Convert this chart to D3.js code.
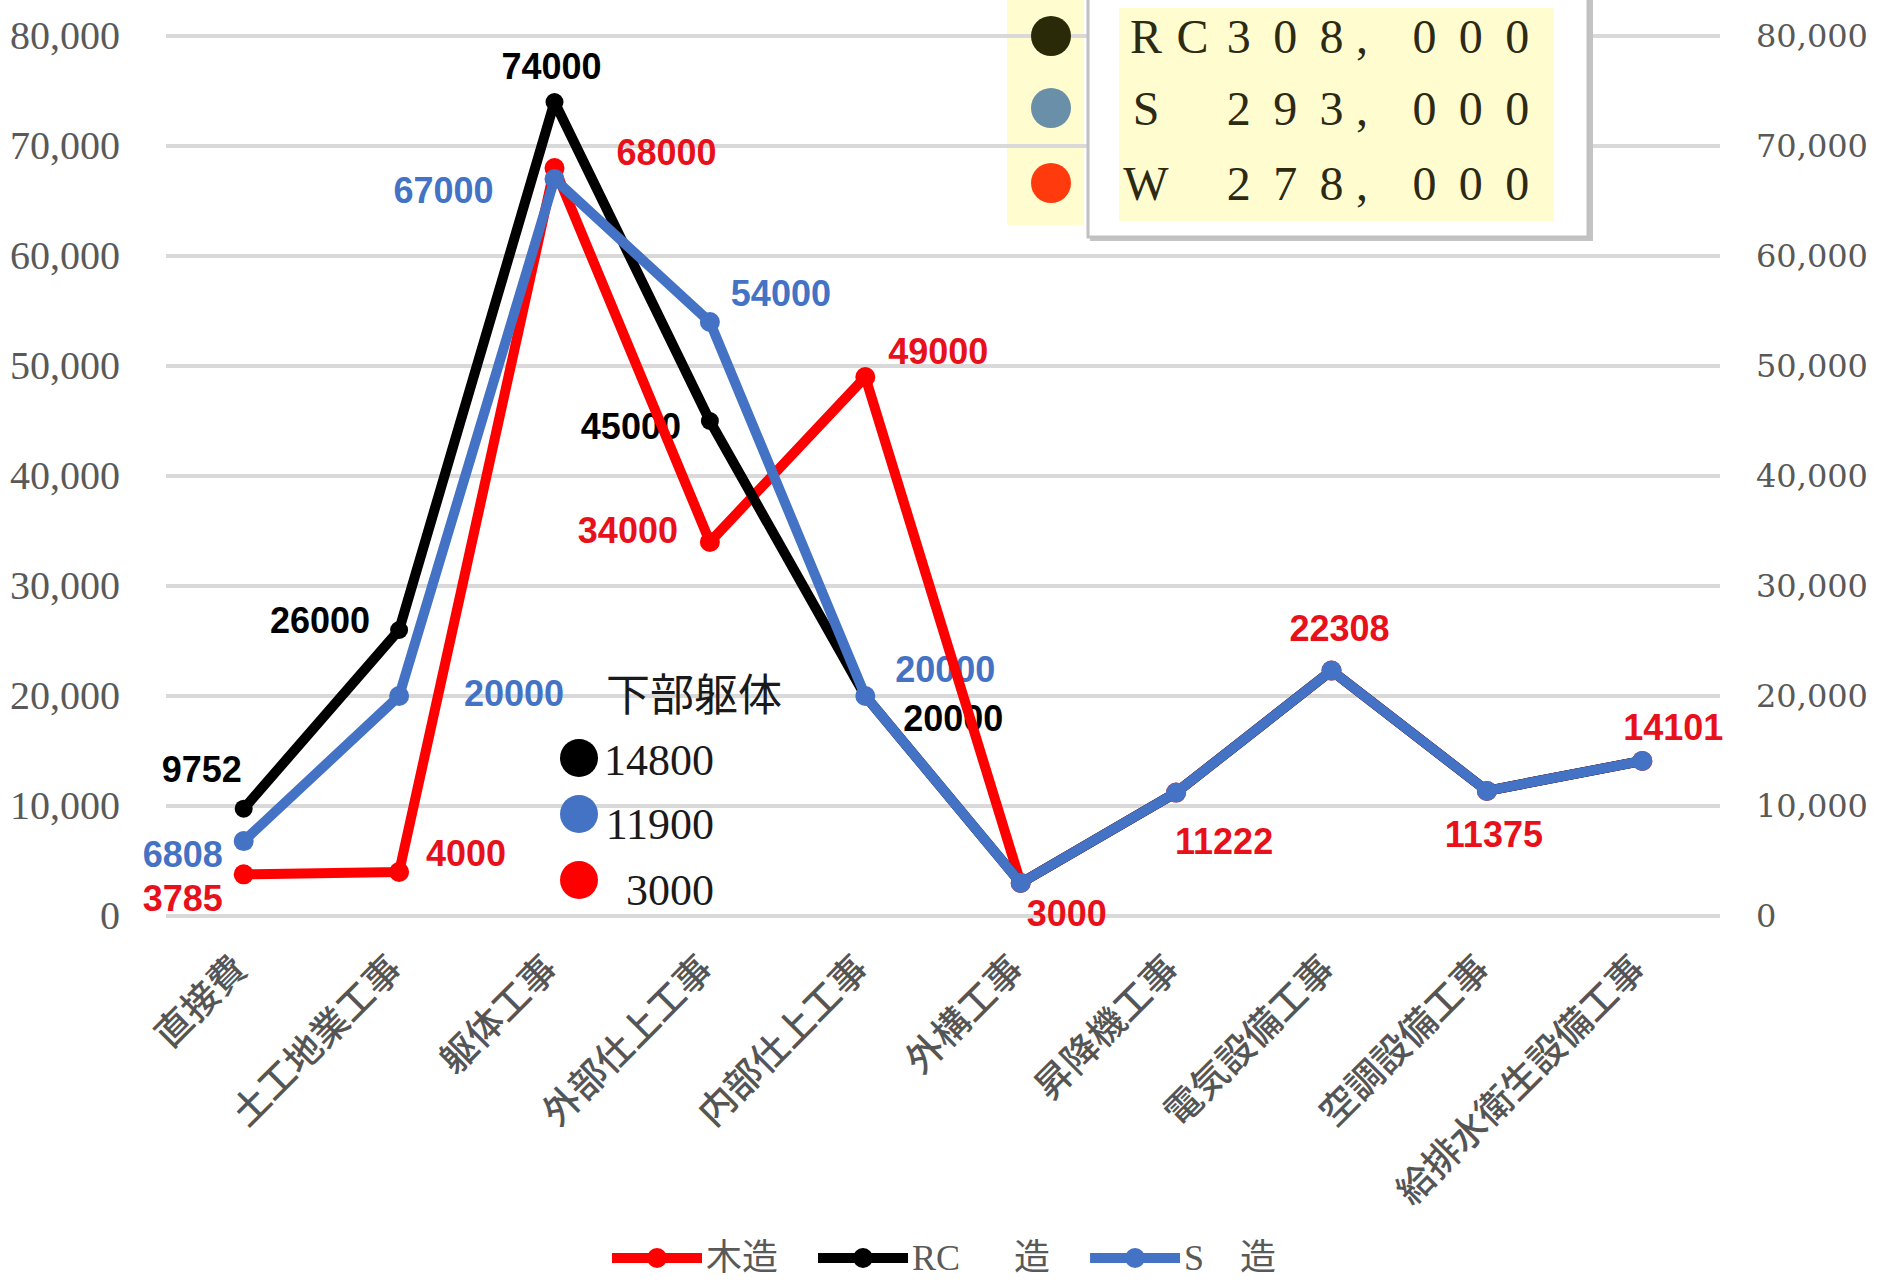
<!DOCTYPE html>
<html lang="ja">
<head>
<meta charset="utf-8">
<title>構造別 工事費比較</title>
<script src="https://cdn.jsdelivr.net/npm/d3@7"></script>
<style>
  html, body { margin: 0; padding: 0; background: #fff; }
  svg { display: block; }
</style>
</head>
<body>
<svg id="chart" width="1883" height="1282"></svg>
<script>
// ---- data ----
const categories = ["直接費", "土工地業工事", "躯体工事", "外部仕上工事", "内部仕上工事",
  "外構工事", "昇降機工事", "電気設備工事", "空調設備工事", "給排水衛生設備工事"];
const woodValues  = [3785, 4000, 68000, 34000, 49000, 3000, 11222, 22308, 11375, 14101];
const rcValues    = [9752, 26000, 74000, 45000, 20000, 3000, 11222, 22308, 11375, 14101];
const steelValues = [6808, 20000, 67000, 54000, 20000, 3000, 11222, 22308, 11375, 14101];
const seriesNames = ["木造", "RC　\u2002造", "S　造"];
const yTicks = [0, 10000, 20000, 30000, 40000, 50000, 60000, 70000, 80000];

// labelled points per series (index of category)
const woodLabelled  = [0, 1, 2, 3, 4, 5, 6, 7, 8, 9];
const rcLabelled    = [0, 1, 2, 3, 4];
const steelLabelled = [0, 1, 2, 3, 4];

// substructure (下部躯体) breakdown: RC, S, W
const substructureTitle = "下部躯体";
const substructureValues = [14800, 11900, 3000];

// totals box
const totalCodes = ["RC", "S", "W"];
const totalValues = [308000, 293000, 278000];

// ---- layout ----
const svg = d3.select("#chart");
const plot = { left: 166, right: 1720, top: 36, bottom: 916 };

const x = d3.scalePoint().domain(categories).range([plot.left, plot.right]).padding(0.5);
const y = d3.scaleLinear().domain([0, 80000]).range([plot.bottom, plot.top]);

const RED = "#ff0000", BLACK = "#000000", BLUE = "#4472c4";
const GRAY_TEXT = "#595959";
const YELLOW = "#fffcd0";

// label offsets from their points (px)
const woodLabelOffsets  = [[-61, 24], [67, -19], [112, -16], [-82, -12], [73, -26], [46, 30], [48, 49], [8, -42], [7, 44], [31, -33]];
const rcLabelOffsets    = [[-42, -39], [-79, -10], [-3, -36], [-79, 5], [88, 22]];
const steelLabelOffsets = [[-61, 13], [115, -3], [-111, 11], [71, -29], [80, -27]];

// yellow strip behind the total markers
svg.append("rect")
  .attr("x", 1007).attr("y", 0).attr("width", 77).attr("height", 225)
  .attr("fill", YELLOW);

// gridlines
svg.append("g").selectAll("line").data(yTicks).join("line")
  .attr("x1", plot.left).attr("x2", plot.right)
  .attr("y1", d => y(d)).attr("y2", d => y(d))
  .attr("stroke", "#d9d9d9").attr("stroke-width", 4);

// left axis
const leftAxis = svg.append("g").attr("transform", `translate(${plot.left},0)`)
  .call(d3.axisLeft(y).tickValues(yTicks).tickFormat(d3.format(",")).tickSize(0).tickPadding(46));
leftAxis.select(".domain").remove();
leftAxis.selectAll("text")
  .attr("fill", GRAY_TEXT).attr("font-family", "'Liberation Serif', serif").attr("font-size", 40)
  .attr("dy", "0.30em");

// right axis
const rightAxis = svg.append("g").attr("transform", `translate(${plot.right},0)`)
  .call(d3.axisRight(y).tickValues(yTicks).tickFormat(d3.format(",")).tickSize(0).tickPadding(36));
rightAxis.select(".domain").remove();
rightAxis.selectAll("text")
  .attr("fill", GRAY_TEXT).attr("font-family", "'DejaVu Serif', serif").attr("font-size", 32)
  .attr("dy", "0.32em");

// category labels (rotated)
svg.append("g").selectAll("text").data(categories).join("text")
  .attr("transform", d => `translate(${x(d) - 6},960) rotate(-45)`)
  .attr("text-anchor", "end")
  .attr("dominant-baseline", "central")
  .attr("fill", "#555555")
  .attr("font-family", "'Noto Sans CJK JP', sans-serif")
  .attr("font-weight", 500)
  .attr("font-size", 37)
  .text(d => d);

// data labels (drawn beneath the lines)
const labelFont = "'Liberation Sans', Arial, sans-serif";
function drawLabels(values, idxs, offsets, color) {
  svg.append("g").selectAll("text").data(idxs).join("text")
    .attr("x", (d, k) => x(categories[d]) + offsets[k][0])
    .attr("y", (d, k) => y(values[d]) + offsets[k][1])
    .attr("text-anchor", "middle")
    .attr("dominant-baseline", "central")
    .attr("font-family", labelFont)
    .attr("font-weight", "bold")
    .attr("font-size", 36)
    .attr("fill", color)
    .text(d => values[d]);
}
drawLabels(woodValues, woodLabelled, woodLabelOffsets, "#e8101a");
drawLabels(rcValues, rcLabelled, rcLabelOffsets, BLACK);
drawLabels(steelValues, steelLabelled, steelLabelOffsets, BLUE);

// series lines and markers
const line = d3.line().x((d, i) => x(categories[i])).y(d => y(d));
const series = [
  { values: woodValues, color: RED, r: 10 },
  { values: rcValues, color: BLACK, r: 9 },
  { values: steelValues, color: BLUE, r: 10 }
];
series.forEach(s => {
  const g = svg.append("g");
  g.append("path").attr("d", line(s.values))
    .attr("fill", "none").attr("stroke", s.color).attr("stroke-width", 10)
    .attr("stroke-linejoin", "round").attr("stroke-linecap", "round");
  g.selectAll("circle").data(s.values).join("circle")
    .attr("cx", (d, i) => x(categories[i])).attr("cy", d => y(d))
    .attr("r", s.r).attr("fill", s.color);
});

// substructure breakdown legend
const sub = svg.append("g");
sub.append("text")
  .attr("x", 606).attr("y", 692)
  .attr("dominant-baseline", "central")
  .attr("font-family", "'Noto Sans CJK JP', sans-serif")
  .attr("font-size", 44).attr("fill", "#1a1a1a")
  .text(substructureTitle);
const subColors = [BLACK, BLUE, RED];
const subRows = [758, 814, 880];
const subTextRows = [760, 824, 890];
sub.selectAll("circle").data(substructureValues).join("circle")
  .attr("cx", 579).attr("cy", (d, i) => subRows[i]).attr("r", 19)
  .attr("fill", (d, i) => subColors[i]);
sub.selectAll("text.v").data(substructureValues).join("text")
  .attr("class", "v")
  .attr("x", 714).attr("y", (d, i) => subTextRows[i])
  .attr("text-anchor", "end").attr("dominant-baseline", "central")
  .attr("font-family", "'Liberation Serif', serif").attr("font-size", 44).attr("fill", "#1a1a1a")
  .text(d => d);

// totals box
const box = svg.append("g");
box.append("rect").attr("x", 1090).attr("y", -10).attr("width", 503).attr("height", 251)
  .attr("fill", "#c4c4c4");
box.append("rect").attr("x", 1088).attr("y", -10).attr("width", 500).attr("height", 247)
  .attr("fill", "#ffffff").attr("stroke", "#c0c0c0").attr("stroke-width", 3);
box.append("rect").attr("x", 1119).attr("y", 8).attr("width", 435).attr("height", 213)
  .attr("fill", YELLOW);

const totalDotColors = ["#2b2a08", "#6a8fa8", "#ff3b0e"];
const totalRows = [36, 108, 183];
box.selectAll("circle").data(totalValues).join("circle")
  .attr("cx", 1051).attr("cy", (d, i) => totalRows[i]).attr("r", 20)
  .attr("fill", (d, i) => totalDotColors[i]);

// each row laid out on a fixed full-width grid of 9 cells
const cellPitch = 46.4, cellStart = 1146;
totalValues.forEach((v, row) => {
  const code = totalCodes[row];
  const cells = (code.length === 1 ? [code, " "] : code.split("")).concat(d3.format(",")(v).split(""));
  box.append("g").selectAll("text").data(cells).join("text")
    .attr("x", (c, i) => cellStart + cellPitch * i - (c === "," ? 16 : 0))
    .attr("y", totalRows[row] + 17)
    .attr("text-anchor", "middle")
    .attr("font-family", "'Liberation Serif', serif")
    .attr("font-size", 48)
    .attr("fill", "#2d2a14")
    .text(c => c);
});

// bottom legend
const legend = svg.append("g");
let lx = 612;
const ly = 1258;
[RED, BLACK, BLUE].forEach((color, i) => {
  legend.append("line").attr("x1", lx).attr("x2", lx + 90).attr("y1", ly).attr("y2", ly)
    .attr("stroke", color).attr("stroke-width", 10);
  legend.append("circle").attr("cx", lx + 45).attr("cy", ly).attr("r", 10).attr("fill", color);
  const t = legend.append("text")
    .attr("x", lx + 94).attr("y", ly)
    .attr("dominant-baseline", "central")
    .attr("font-family", "'Liberation Serif', 'Noto Sans CJK JP', serif")
    .attr("font-size", 36).attr("fill", GRAY_TEXT)
    .style("white-space", "pre")
    .text(seriesNames[i]);
  lx += 94 + t.node().getComputedTextLength() + 40;
});
</script>
</body>
</html>
